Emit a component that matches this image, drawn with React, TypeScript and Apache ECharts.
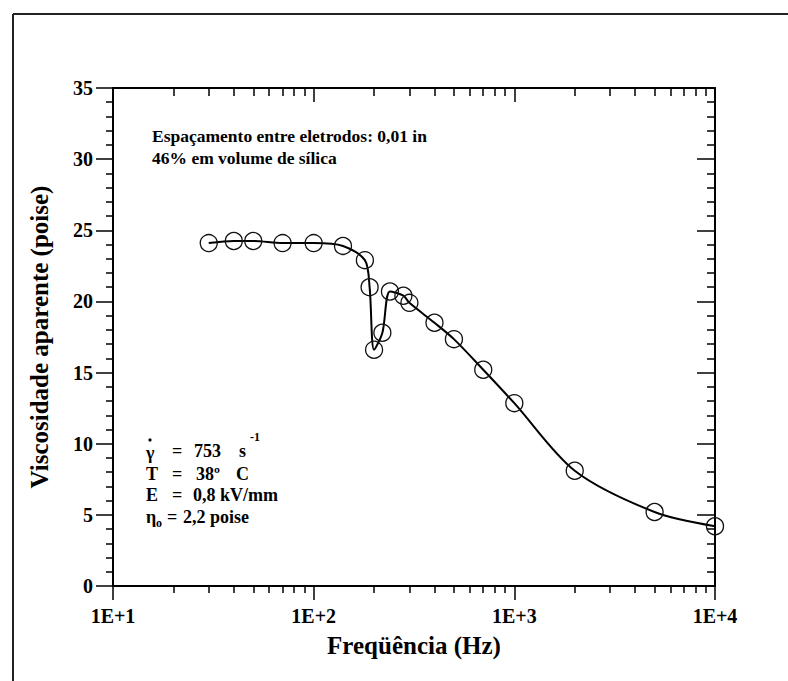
import React, { useEffect, useRef } from "react";
import * as echarts from "echarts";

// Frequency (Hz) and apparent viscosity (poise)
const FREQ_HZ = [30, 40, 50, 70, 100, 140, 180, 190, 200, 220, 240, 280, 300, 400, 500, 700, 1000, 2000, 5000, 10000];
const VISCOSITY = [24.1, 24.25, 24.25, 24.1, 24.1, 23.9, 22.9, 21.0, 16.6, 17.8, 20.7, 20.4, 19.9, 18.5, 17.35, 15.2, 12.85, 8.1, 5.2, 4.2];

// Axis ticks (x axis is drawn in log10 space)
const X_DECADES = [1, 2, 3]; // decades that carry minor ticks
const X_MINOR_MULT = [2, 3, 4, 5, 6, 7, 8, 9];
const X_LABEL_PREFIX = "1E+";
const Y_MIN = 0;
const Y_MAX = 35;
const Y_INTERVAL = 5;

const FONT = "'Liberation Serif', 'Times New Roman', serif";

export default function App() {
  const ref = useRef<HTMLDivElement | null>(null);

  useEffect(() => {
    if (!ref.current) return;
    const chart = echarts.init(ref.current, undefined, { renderer: "svg" });

    const minorTicks: number[] = [];
    X_DECADES.forEach((d) => X_MINOR_MULT.forEach((m) => minorTicks.push(d + Math.log10(m))));

    const lineStyle = { color: "#000", width: 2 };
    const tickStyle = { color: "#000", width: 1.5 };

    const baseX = {
      type: "value" as const,
      min: 1,
      max: 4,
      interval: 1,
      splitLine: { show: false },
    };
    const baseY = {
      type: "value" as const,
      min: Y_MIN,
      max: Y_MAX,
      interval: Y_INTERVAL,
      splitLine: { show: false },
      minorSplitLine: { show: false },
    };

    const txt = (x: number, y: number, text: string, size = 18, align = "left") => ({
      type: "text",
      x,
      y,
      style: {
        text,
        fill: "#000",
        font: `bold ${size}px ${FONT}`,
        textAlign: align,
        textVerticalAlign: "middle",
      },
    });

    chart.setOption({
      animation: false,
      backgroundColor: "#fff",
      grid: { left: 113, right: 73, top: 88, bottom: 95, containLabel: false },
      xAxis: [
        {
          ...baseX,
          position: "bottom",
          axisLine: { show: true, onZero: false, lineStyle },
          axisTick: { show: true, inside: false, length: 14, lineStyle: tickStyle },
          axisLabel: {
            formatter: (v: number) => `${X_LABEL_PREFIX}${Math.round(v)}`,
            fontFamily: FONT,
            fontWeight: "bold",
            fontSize: 20,
            color: "#000",
            margin: 20,
          },
        },
        {
          ...baseX,
          position: "bottom",
          axisLine: { show: false, onZero: false },
          axisTick: { show: true, inside: false, length: 7, customValues: minorTicks, lineStyle: tickStyle },
          axisLabel: { show: false },
        },
        {
          ...baseX,
          position: "top",
          axisLine: { show: true, onZero: false, lineStyle },
          axisTick: { show: true, inside: true, length: 14, lineStyle: tickStyle },
          axisLabel: { show: false },
        },
        {
          ...baseX,
          position: "top",
          axisLine: { show: false, onZero: false },
          axisTick: { show: true, inside: true, length: 8, customValues: minorTicks, lineStyle: tickStyle },
          axisLabel: { show: false },
        },
      ],
      yAxis: [
        {
          ...baseY,
          position: "left",
          axisLine: { show: true, onZero: false, lineStyle },
          axisTick: { show: true, inside: false, length: 17, lineStyle: tickStyle },
          minorTick: { show: true, splitNumber: 5, length: 7, lineStyle: tickStyle },
          axisLabel: {
            fontFamily: FONT,
            fontWeight: "bold",
            fontSize: 20,
            color: "#000",
            margin: 20,
          },
        },
        {
          ...baseY,
          position: "right",
          axisLine: { show: true, onZero: false, lineStyle },
          axisTick: { show: true, inside: true, length: 18, lineStyle: tickStyle },
          minorTick: { show: true, splitNumber: 5, length: 8, lineStyle: tickStyle },
          axisLabel: { show: false },
        },
      ],
      series: [
        {
          type: "line",
          xAxisIndex: 0,
          yAxisIndex: 0,
          data: FREQ_HZ.map((f, i) => [Math.log10(f), VISCOSITY[i]]),
          smooth: 0.3,
          symbol: "circle",
          symbolSize: 17,
          showAllSymbol: true,
          lineStyle: { color: "#000", width: 2 },
          itemStyle: { color: "rgba(0,0,0,0)", borderColor: "#111", borderWidth: 1.3 },
        },
      ],
      graphic: [
        { type: "line", shape: { x1: 13, y1: 14, x2: 788, y2: 14 }, style: { stroke: "#222", lineWidth: 2 } },
        { type: "line", shape: { x1: 13, y1: 14, x2: 13, y2: 681 }, style: { stroke: "#222", lineWidth: 2 } },
        // axis titles
        {
          type: "text",
          x: 39,
          y: 337,
          rotation: Math.PI / 2,
          style: {
            text: "Viscosidade aparente (poise)",
            fill: "#000",
            font: `bold 25px ${FONT}`,
            textAlign: "center",
            textVerticalAlign: "middle",
          },
        },
        {
          type: "text",
          x: 414,
          y: 645,
          style: {
            text: "Freqüência (Hz)",
            fill: "#000",
            font: `bold 25px ${FONT}`,
            textAlign: "center",
            textVerticalAlign: "middle",
          },
        },
        // top annotation
        txt(152, 136, "Espaçamento entre eletrodos: 0,01 in", 17.5),
        txt(152, 158, "46% em volume de sílica", 17.5),
        // conditions block
        txt(146, 453, "γ"),
        { type: "circle", shape: { cx: 150, cy: 440, r: 1.6 }, style: { fill: "#000" } },
        txt(172, 451, "="),
        txt(194, 451, "753"),
        txt(239, 451, "s"),
        txt(250, 437, "-1", 12),
        txt(146, 474, "T"),
        txt(172, 474, "="),
        txt(196, 474, "38º"),
        txt(236, 474, "C"),
        txt(146, 495, "E"),
        txt(172, 495, "="),
        txt(193, 495, "0,8 kV/mm"),
        txt(146, 517, "η"),
        txt(156, 523, "o", 12),
        txt(167, 517, "="),
        txt(183, 517, "2,2 poise"),
      ],
    });

    return () => chart.dispose();
  }, []);

  return (
    <div
      ref={ref}
      style={{ position: "absolute", left: 0, top: 0, width: 788, height: 681 }}
    />
  );
}
